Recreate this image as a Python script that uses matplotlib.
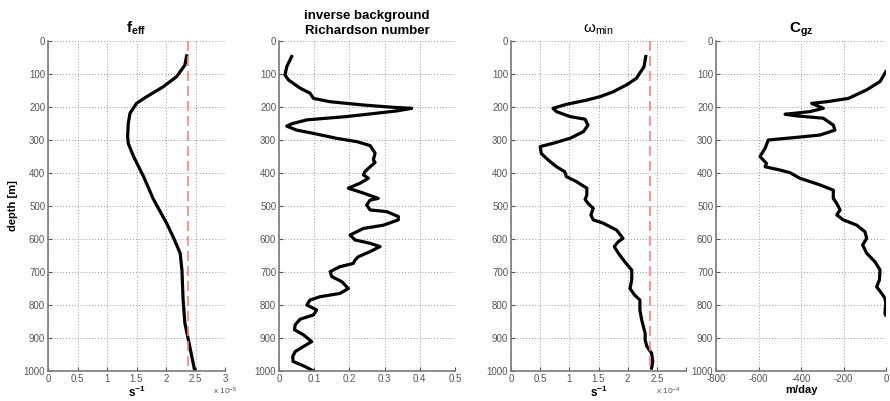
import matplotlib
matplotlib.use("Agg")
import matplotlib.pyplot as plt
import numpy as np

plt.rcParams['font.family'] = ['Liberation Sans', 'DejaVu Sans']
plt.rcParams['mathtext.fontset'] = 'custom'
plt.rcParams['mathtext.rm'] = 'Liberation Sans'
plt.rcParams['mathtext.bf'] = 'Liberation Sans:bold'
plt.rcParams['mathtext.it'] = 'Liberation Sans:italic'

# ---- data ----
feff_depth = [45, 73, 108, 139, 169, 189, 219, 250, 290, 310, 350, 411, 477, 497, 552, 593, 643, 694, 785, 855, 906, 1002]
feff_val = [2.35, 2.32, 2.18, 1.95, 1.67, 1.50, 1.39, 1.36, 1.35, 1.36, 1.45, 1.62, 1.78, 1.84, 2.01, 2.12, 2.24, 2.27, 2.29, 2.32, 2.38, 2.49]
feff_ref = 2.38

ri_depth = [47, 78, 103, 118, 143, 158, 174, 184, 194, 201, 204, 212, 229, 239, 251, 258, 270, 280, 295, 305, 317, 340, 360, 368,
            381, 396, 406, 416, 431, 446, 461, 477, 482, 497, 512, 517, 532, 542, 558, 568, 583, 588, 603, 613, 623, 638, 654,
            664, 674, 684, 699, 714, 729, 750, 765, 775, 785, 800, 815, 830, 843, 860, 875, 890, 911, 926, 941, 956, 971, 986, 1002]
ri_val = [0.036, 0.022, 0.017, 0.027, 0.060, 0.088, 0.098, 0.145, 0.240, 0.325, 0.377, 0.334, 0.192, 0.079, 0.036, 0.022, 0.050,
          0.098, 0.164, 0.221, 0.259, 0.273, 0.268, 0.273, 0.259, 0.244, 0.240, 0.254, 0.230, 0.197, 0.240, 0.282, 0.259, 0.249,
          0.259, 0.306, 0.339, 0.339, 0.297, 0.240, 0.211, 0.202, 0.216, 0.259, 0.287, 0.259, 0.225, 0.216, 0.211, 0.173, 0.145,
          0.150, 0.178, 0.197, 0.173, 0.116, 0.088, 0.079, 0.107, 0.098, 0.060, 0.046, 0.044, 0.069, 0.093, 0.069, 0.046, 0.039,
          0.040, 0.073, 0.102]

wmin_depth = [47, 78, 113, 133, 154, 169, 179, 192, 204, 214, 229, 237, 255, 275, 295, 310, 320, 341, 361, 381, 396, 411, 426,
              446, 467, 480, 492, 507, 527, 542, 552, 573, 598, 608, 623, 643, 669, 694, 724, 750, 770, 785, 815, 845, 886, 906,
              926, 946, 971, 991]
wmin_val = [2.31, 2.28, 2.15, 1.98, 1.75, 1.52, 1.30, 0.95, 0.72, 0.78, 1.01, 1.27, 1.32, 1.24, 1.01, 0.72, 0.50, 0.52, 0.64,
            0.78, 0.92, 0.95, 1.12, 1.30, 1.30, 1.27, 1.32, 1.41, 1.37, 1.41, 1.58, 1.81, 1.92, 1.84, 1.77, 1.84, 1.95, 2.07,
            2.07, 2.04, 2.12, 2.21, 2.21, 2.24, 2.30, 2.30, 2.33, 2.41, 2.43, 2.41]
wmin_ref = 2.38

cgz_depth = [93, 123, 148, 174, 184, 189, 204, 214, 222, 227, 234, 255, 270, 285, 292, 300, 325, 350, 361, 371, 381, 391, 399,
             416, 436, 452, 477, 492, 512, 527, 542, 558, 578, 598, 618, 643, 669, 694, 724, 745, 765, 780, 795, 825, 830]
cgz_val = [-1, -28, -91, -177, -279, -350, -295, -358, -475, -420, -295, -248, -240, -311, -420, -554, -569, -593, -577, -562,
           -569, -499, -452, -405, -311, -248, -248, -232, -216, -232, -201, -138, -99, -91, -110, -91, -52, -28, -31, -44,
           -20, -5, -1, -5, -2]

depth_ticks = list(range(0, 1001, 100))

# ---- figure ----
fig = plt.figure(figsize=(8.9, 4.01), dpi=100)
W, H = 890, 401

def add_ax(left_px, right_px, top_px=41, bottom_px=371):
    return fig.add_axes([left_px / W, 1 - bottom_px / H, (right_px - left_px) / W, (bottom_px - top_px) / H])

gray = '#7a7a7a'
tick_c = '#555555'

def style(ax, xlim, xticks, xticklabels=None):
    ax.set_ylim(1000, 0)
    ax.set_yticks(depth_ticks)
    ax.set_xlim(*xlim)
    ax.set_xticks(xticks)
    if xticklabels is not None:
        ax.set_xticklabels(xticklabels)
    for s in ['top', 'right']:
        ax.spines[s].set_visible(False)
    for s in ['left', 'bottom']:
        ax.spines[s].set_color(gray)
        ax.spines[s].set_linewidth(1.2)
    ax.tick_params(axis='both', labelsize=7, colors=tick_c, length=3, width=0.8, direction='in', pad=2)
    ax.grid(True, linestyle=(0, (1, 2)), color='#9a9a9a', linewidth=0.7)
    ax.set_axisbelow(True)

lw = 2.3
ax1 = add_ax(48, 225)
ax1.plot(feff_val, feff_depth, color='black', lw=lw)
ax1.plot([feff_ref, feff_ref], [0, 1000], color='#ff7f7f', lw=1.2, dashes=(6, 3))
style(ax1, (0, 3), [0, 0.5, 1, 1.5, 2, 2.5, 3], ['0', '0.5', '1', '1.5', '2', '2.5', '3'])
ax1.set_title(r'$\mathbf{f_{eff}}$', fontsize=11, pad=6)
ax1.set_ylabel('depth [m]', fontsize=8, fontweight='bold')
ax1.yaxis.set_label_coords(-0.17, 0.5)
ax1.set_xlabel(r'$\mathbf{s^{-1}}$', fontsize=8.5, labelpad=1)
ax1.text(1.0, -0.045, r'x 10$^{-5}$', transform=ax1.transAxes, fontsize=6, color=tick_c, ha='center', va='top')

ax2 = add_ax(279, 455)
ax2.plot(ri_val, ri_depth, color='black', lw=lw)
style(ax2, (0, 0.5), [0, 0.1, 0.2, 0.3, 0.4, 0.5], ['0', '0.1', '0.2', '0.3', '0.4', '0.5'])
ax2.set_title('inverse background\nRichardson number', fontsize=9.5, fontweight='bold', pad=5, linespacing=1.35)

ax3 = add_ax(511, 686)
ax3.plot(wmin_val, wmin_depth, color='black', lw=lw)
ax3.plot([wmin_ref, wmin_ref], [0, 1000], color='#ff7f7f', lw=1.2, dashes=(6, 3))
style(ax3, (0, 3), [0, 0.5, 1, 1.5, 2, 2.5, 3], ['0', '0.5', '1', '1.5', '2', '2.5', ''])
ax3.set_title('ω$_{\\mathrm{min}}$', fontsize=11, pad=6)
ax3.set_xlabel(r'$\mathbf{s^{-1}}$', fontsize=8.5, labelpad=1)
ax3.text(0.90, -0.045, r'x 10$^{-4}$', transform=ax3.transAxes, fontsize=6, color=tick_c, ha='center', va='top')

ax4 = add_ax(716, 886)
ax4.plot(cgz_val, cgz_depth, color='black', lw=lw)
style(ax4, (-800, 0), [-800, -600, -400, -200, 0], ['-800', '-600', '-400', '-200', '0'])
ax4.set_title(r'$\mathbf{C_{gz}}$', fontsize=11, pad=6)
ax4.set_xlabel('m/day', fontsize=8, fontweight='bold', labelpad=1)

fig.savefig('out.png', dpi=100)
